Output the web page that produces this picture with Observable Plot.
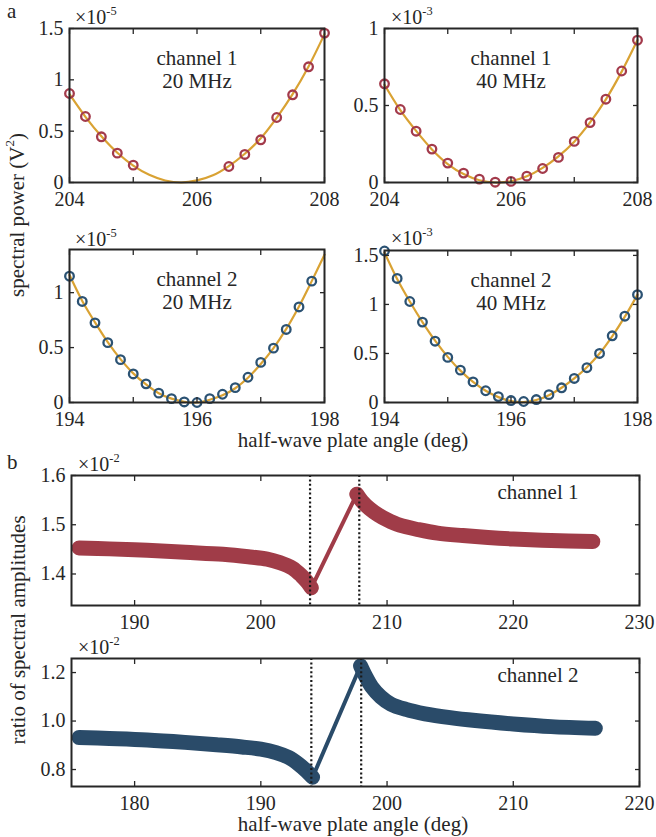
<!DOCTYPE html>
<html><head><meta charset="utf-8">
<script src="https://cdn.jsdelivr.net/npm/d3@7"></script>
<script src="https://cdn.jsdelivr.net/npm/@observablehq/plot@0.6"></script>
<style>
body{margin:0;background:#fff;}
#root{position:relative;width:656px;height:837px;font-family:"Liberation Serif","Times New Roman",serif;color:#262626;overflow:hidden;background:#fff}
.p{position:absolute}
.t{position:absolute;white-space:nowrap;line-height:1}
.sup{position:relative;top:-0.75em;font-size:0.62em}
</style></head><body><div id="root"></div>
<script>
// ---------- Panel a data (values in units of the ×10^n factor) ----------
// channel 1, 20 MHz (×1e-5)
const c1f20X = [204, 204.25, 204.5, 204.75, 205, 206.5, 206.75, 207, 207.25, 207.5, 207.75, 208];
const c1f20Y = [0.867, 0.643, 0.445, 0.286, 0.169, 0.156, 0.273, 0.416, 0.633, 0.854, 1.127, 1.455];
const c1f20FitX = [204, 204.25, 204.5, 204.75, 205, 205.25, 205.5, 205.75, 206, 206.25, 206.5, 206.75, 207, 207.25, 207.5, 207.75, 208];
const c1f20FitY = [0.86, 0.64, 0.45, 0.29, 0.165, 0.075, 0.02, 0.0, 0.02, 0.07, 0.16, 0.28, 0.43, 0.63, 0.86, 1.13, 1.445];
// channel 1, 40 MHz (×1e-3)
const c1f40X = [204, 204.25, 204.5, 204.75, 205, 205.25, 205.5, 205.75, 206, 206.25, 206.5, 206.75, 207, 207.25, 207.5, 207.75, 208];
const c1f40Y = [0.641, 0.474, 0.333, 0.217, 0.126, 0.061, 0.022, 0.002, 0.007, 0.041, 0.091, 0.163, 0.267, 0.389, 0.541, 0.724, 0.924];
const c1f40FitY = [0.635, 0.47, 0.335, 0.215, 0.12, 0.055, 0.015, 0.0, 0.008, 0.04, 0.095, 0.17, 0.265, 0.39, 0.54, 0.72, 0.925];
// channel 2, 20 MHz (×1e-5)
const c2f20X = [194, 194.2, 194.4, 194.6, 194.8, 195, 195.2, 195.4, 195.6, 195.8, 196, 196.2, 196.4, 196.6, 196.8, 197, 197.2, 197.4, 197.6, 197.8];
const c2f20Y = [1.15, 0.92, 0.725, 0.545, 0.39, 0.26, 0.17, 0.085, 0.035, 0.005, 0.0, 0.035, 0.075, 0.135, 0.23, 0.365, 0.495, 0.665, 0.87, 1.105];
const c2FitX = [194, 194.2, 194.4, 194.6, 194.8, 195, 195.2, 195.4, 195.6, 195.8, 196, 196.2, 196.4, 196.6, 196.8, 197, 197.2, 197.4, 197.6, 197.8, 198];
const c2f20FitY = [1.16, 0.925, 0.73, 0.55, 0.395, 0.265, 0.165, 0.085, 0.035, 0.007, 0.0, 0.025, 0.065, 0.13, 0.225, 0.35, 0.495, 0.67, 0.875, 1.105, 1.345];
// channel 2, 40 MHz (×1e-3)
const c2f40X = [194, 194.2, 194.4, 194.6, 194.8, 195, 195.2, 195.4, 195.6, 195.8, 196, 196.2, 196.4, 196.6, 196.8, 197, 197.2, 197.4, 197.6, 197.8, 198];
const c2f40Y = [1.545, 1.265, 1.03, 0.82, 0.625, 0.46, 0.33, 0.21, 0.12, 0.06, 0.02, 0.01, 0.03, 0.08, 0.15, 0.245, 0.355, 0.5, 0.68, 0.88, 1.10];
const c2f40FitY = [1.53, 1.26, 1.03, 0.82, 0.63, 0.465, 0.325, 0.21, 0.12, 0.055, 0.015, 0.005, 0.025, 0.075, 0.15, 0.245, 0.36, 0.5, 0.675, 0.875, 1.10];

// ---------- Panel b data (ratio ×1e-2) ----------
const r1X = [185.6, 188, 191, 194, 197, 199, 200.5, 201.5, 202.5, 203.2, 203.7, 204.0,
             207.6, 208.0, 208.6, 209.3, 210.0, 211, 212.5, 214, 216, 218, 220, 223, 226.3];
const r1Y = [1.453, 1.451, 1.448, 1.444, 1.440, 1.435, 1.430, 1.423, 1.412, 1.397, 1.383, 1.372,
             1.562, 1.548, 1.533, 1.520, 1.510, 1.499, 1.490, 1.483, 1.478, 1.474, 1.471, 1.468, 1.466];
const r1Branch = [0,0,0,0,0,0,0,0,0,0,0,0, 1,1,1,1,1,1,1,1,1,1,1,1,1];
const r1Guides = [203.9, 207.8];
const r2X = [175.6, 178, 181, 184, 186.5, 188.5, 190, 191.2, 192.2, 193.0, 193.6, 194.1,
             197.9, 198.3, 198.8, 199.5, 200.3, 201.5, 203, 205, 207, 210, 213, 216.5];
const r2Y = [0.932, 0.928, 0.922, 0.912, 0.902, 0.893, 0.884, 0.870, 0.850, 0.822, 0.795, 0.768,
             1.228, 1.185, 1.140, 1.100, 1.070, 1.048, 1.030, 1.014, 1.002, 0.988, 0.977, 0.970];
const r2Branch = [0,0,0,0,0,0,0,0,0,0,0,0, 1,1,1,1,1,1,1,1,1,1,1,1];
const r2Guides = [194.0, 197.95];

// ---------- styling ----------
const ink = "#262626";
const red = "#a33a4b", blue = "#2b5273", gold = "#d9a233";
const bandRed = "#a03c48", bandBlue = "#2a4b69";
const root = document.getElementById("root");

const zip = (xs, ys, extra) => xs.map((x, i) => ({x, y: ys[i], b: extra ? extra[i] : 0}));

function panel({left, top, width, height, mL, mR, mT, mB, xDom, yDom, xTicks, xLabels, yTicks, yLabels, yFmt, marks}) {
  const fmt = yFmt || (d => String(d));
  const svg = Plot.plot({
    width, height, marginLeft: mL, marginRight: mR, marginTop: mT, marginBottom: mB,
    style: {fontFamily: '"Liberation Serif", serif', fontSize: "20px", color: ink, background: "transparent", overflow: "visible"},
    x: {domain: xDom},
    y: {domain: yDom},
    marks: [
      ...marks,
      Plot.axisX({anchor: "bottom", ticks: xTicks, tickSize: 5, dy: -5, tickFormat: () => "", label: null, strokeWidth: 1.3}),
      Plot.axisX({anchor: "top", ticks: xTicks, tickSize: 5, dy: 5, tickFormat: () => "", label: null, strokeWidth: 1.3}),
      Plot.axisX({anchor: "bottom", ticks: xLabels, tickSize: 0, tickPadding: 9, label: null, tickFormat: d => String(d)}),
      Plot.axisY({anchor: "left", ticks: yTicks, tickSize: 5, dx: 5, tickFormat: () => "", label: null, strokeWidth: 1.3}),
      Plot.axisY({anchor: "right", ticks: yTicks, tickSize: 5, dx: -5, tickFormat: () => "", label: null, strokeWidth: 1.3}),
      Plot.axisY({anchor: "left", ticks: yLabels, tickSize: 0, tickPadding: 6, label: null, tickFormat: fmt}),
      Plot.frame({stroke: ink, strokeWidth: 2})
    ]
  });
  svg.classList.add("p");
  svg.style.left = left + "px";
  svg.style.top = top + "px";
  root.appendChild(svg);
}

function fitPanel(opts, pts, fit, color, label) {
  panel({...opts, marks: [
    Plot.line(fit, {x: "x", y: "y", stroke: gold, strokeWidth: 2.2, curve: "catmull-rom"}),
    Plot.dot(pts, {x: "x", y: "y", r: 4.3, stroke: color, strokeWidth: 2.3, fill: "none"}),
    Plot.text([label], {text: d => d, frameAnchor: "top", lineAnchor: "top", dy: 20, fontSize: 21, lineHeight: 1.11, fill: ink})
  ]});
}

// Panel a
fitPanel({left: 0, top: 0, width: 330, height: 215, mL: 69, mR: 6, mT: 28, mB: 33,
  xDom: [204, 208], yDom: [0, 1.5], xTicks: [204, 205, 206, 207, 208], xLabels: [204, 206, 208],
  yTicks: [0, 0.5, 1, 1.5], yLabels: [0, 0.5, 1, 1.5]},
  zip(c1f20X, c1f20Y), zip(c1f20FitX, c1f20FitY), red, "channel 1\n20 MHz");
fitPanel({left: 330, top: 0, width: 326, height: 215, mL: 54, mR: 19, mT: 28, mB: 33,
  xDom: [204, 208], yDom: [0, 1], xTicks: [204, 205, 206, 207, 208], xLabels: [204, 206, 208],
  yTicks: [0, 0.5, 1], yLabels: [0, 0.5, 1]},
  zip(c1f40X, c1f40Y), zip(c1f40X, c1f40FitY), red, "channel 1\n40 MHz");
fitPanel({left: 0, top: 215, width: 330, height: 215, mL: 69, mR: 6, mT: 34, mB: 28,
  xDom: [194, 198], yDom: [0, 1.393], xTicks: [194, 195, 196, 197, 198], xLabels: [194, 196, 198],
  yTicks: [0, 0.5, 1], yLabels: [0, 0.5, 1]},
  zip(c2f20X, c2f20Y), zip(c2FitX, c2f20FitY), blue, "channel 2\n20 MHz");
fitPanel({left: 330, top: 215, width: 326, height: 215, mL: 54, mR: 19, mT: 35, mB: 28,
  xDom: [194, 198], yDom: [0, 1.55], xTicks: [194, 195, 196, 197, 198], xLabels: [194, 196, 198],
  yTicks: [0, 0.5, 1, 1.5], yLabels: [0, 0.5, 1, 1.5]},
  zip(c2f40X, c2f40Y), zip(c2FitX, c2f40FitY), blue, "channel 2\n40 MHz");

// Panel b
function ratioPanel(opts, pts, guides, color, label) {
  panel({...opts, yFmt: d3.format(".1f"), marks: [
    Plot.line(pts, {x: "x", y: "y", stroke: color, strokeWidth: 4, clip: true}),
    Plot.line(pts, {x: "x", y: "y", z: "b", stroke: color, strokeWidth: 15, strokeLinecap: "round", strokeLinejoin: "round", curve: "catmull-rom", clip: true}),
    Plot.ruleX(guides, {stroke: "#1a1a1a", strokeWidth: 2.2, strokeDasharray: "2,2.4"}),
    Plot.text([label], {text: d => d, frameAnchor: "top-right", textAnchor: "end", lineAnchor: "top", dx: -61, dy: 9, fontSize: 21, fill: ink})
  ]});
}
ratioPanel({left: 0, top: 460, width: 656, height: 170, mL: 71, mR: 17, mT: 15, mB: 25,
  xDom: [185, 230], yDom: [1.336, 1.6], xTicks: [190, 200, 210, 220, 230], xLabels: [190, 200, 210, 220, 230],
  yTicks: [1.4, 1.5, 1.6], yLabels: [1.4, 1.5, 1.6]},
  zip(r1X, r1Y, r1Branch), r1Guides, bandRed, "channel 1");
ratioPanel({left: 0, top: 640, width: 656, height: 175, mL: 71, mR: 17, mT: 18, mB: 29,
  xDom: [175, 220], yDom: [0.73, 1.258], xTicks: [180, 190, 200, 210, 220], xLabels: [180, 190, 200, 210, 220],
  yTicks: [0.8, 1.0, 1.2], yLabels: [0.8, 1.0, 1.2]},
  zip(r2X, r2Y, r2Branch), r2Guides, bandBlue, "channel 2");

// ---------- HTML text ----------
function txt(html, x, baseline, size, anchor) {
  const d = document.createElement("div");
  d.className = "t";
  d.innerHTML = html;
  d.style.fontSize = size + "px";
  d.style.left = x + "px";
  d.style.top = (baseline - 0.8375 * size) + "px";
  if (anchor === "middle") d.style.transform = "translateX(-50%)";
  root.appendChild(d);
}
function vtxt(html, cx, cy, size) {
  const d = document.createElement("div");
  d.className = "t";
  d.innerHTML = html;
  d.style.fontSize = size + "px";
  d.style.left = cx + "px";
  d.style.top = cy + "px";
  d.style.transform = "translate(-50%,-50%) rotate(-90deg)";
  root.appendChild(d);
}
const exp = n => `×10<span class="sup">-${n}</span>`;
txt("a", 7, 18.5, 21);
txt("b", 7, 470, 21);
txt(exp(5), 75, 24, 20);
txt(exp(3), 391, 24, 20);
txt(exp(5), 75, 246, 20);
txt(exp(3), 391, 245, 20);
txt(exp(2), 78, 471, 20);
txt(exp(2), 78, 654, 20);
vtxt('spectral power (V<span class="sup">2</span>)', 17, 215, 21);
txt("half-wave plate angle (deg)", 353, 448, 21, "middle");
vtxt("ratio of spectral amplitudes", 18, 630, 21);
txt("half-wave plate angle (deg)", 353, 832, 21, "middle");
</script>
</body></html>
